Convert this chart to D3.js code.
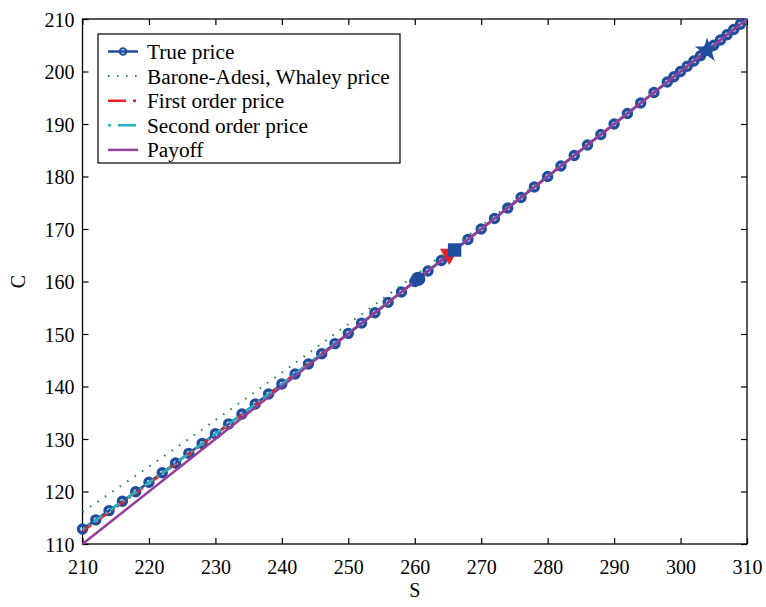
<!DOCTYPE html>
<html>
<head>
<meta charset="utf-8">
<script src="https://cdn.jsdelivr.net/npm/d3@7"></script>
<style>
  body { margin: 0; background: #fff; }
  svg text { font-family: "Times New Roman", "Liberation Serif", "DejaVu Serif", serif; fill: #000; }
</style>
</head>
<body>
<div id="chart"></div>
<script>
// Chart data.
let sTrue = [210,212,214,216,218,220,222,224,226,228,230,232,234,236,238,240,242,244,246,248,250,252,254,256,258,260,262,264,266,268,270,272,274,276,278,280,282,284,286,288,290,292,294,296,298,299,300,301,302,303,304,305,306,307,308,309];
let cTrue = [112.85,114.6,116.36,118.15,119.95,121.75,123.57,125.42,127.27,129.13,131.0,132.88,134.77,136.66,138.56,140.47,142.38,144.3,146.23,148.17,150.12,152.08,154.05,156.03,158.01,160,162,164,166,168,170,172,174,176,178,180,182,184,186,188,190,192,194,196,198,199,200,201,202,203,204,205,206,207,208,209];

let sBaw = [210,215,220,225,230,235,240,245,250,255,260,265,270,275,280,285,290,295,300,305,310];
let cBaw = [116.1,120.4,124.75,129.15,133.6,138.1,142.65,147.25,151.9,156.55,161.15,165.85,170.6,175.42,180.28,185.17,190.09,195.04,200.01,205,210];

let sApprox = [210,212,214,216,218,220,222,224,226,228,230,232,234,236,238,240,242,244,246,248,250,252,254,256,258,260,310];
let cFirst = [112.45,114.25,116.05,117.87,119.7,121.53,123.37,125.22,127.08,128.96,130.84,132.74,134.65,136.57,138.5,140.43,142.36,144.29,146.22,148.16,150.11,152.07,154.04,156.02,158.01,160,210];
let cSecond = [112.78,114.54,116.31,118.1,119.9,121.71,123.53,125.37,127.22,129.08,130.95,132.84,134.73,136.63,138.54,140.45,142.37,144.29,146.22,148.16,150.11,152.07,154.04,156.02,158.01,160,210];

let sPayoff = [210,310];
let cPayoff = [110,210];

// Critical prices: [S, C, shape, colour]
let critical = [
    [260.5, 160.5, 'circle', '#1f4e9f'],
    [265.2, 165.2, 'triangle', '#e8202a'],
    [266, 166, 'square', '#1f4e9f'],
    [304, 204, 'star', '#1f4e9f']
];

let xTicks = [210,220,230,240,250,260,270,280,290,300,310];
let yTicks = [110,120,130,140,150,160,170,180,190,200,210];

let legendNames = ['True price', 'Barone-Adesi, Whaley price', 'First order price', 'Second order price', 'Payoff'];

// Build constants.
let width = 766,
    height = 607,
    plot = {left: 82.5, right: 747, top: 19, bottom: 544},
    blue = '#1f4e9f',
    green = '#23904a',
    red = '#e8202a',
    cyan = '#22b5bf',
    purple = '#933d9d',
    fontFamily = '"Times New Roman", "Liberation Serif", "DejaVu Serif", serif',
    fontSize = 20,
    legendFont = 21.3;

let svg = d3.select('#chart')
    .append('svg')
        .attr('width', width)
        .attr('height', height);

let x = d3.scaleLinear().domain([210, 310]).range([plot.left, plot.right]);
let y = d3.scaleLinear().domain([110, 210]).range([plot.bottom, plot.top]);

let line = d3.line()
    .x(d => x(d[0]))
    .y(d => y(d[1]));

let zip = (a, b) => a.map((v, i) => [v, b[i]]);

// Axes (ticks pointing inward, box on).
function styleAxis(g, labels) {
    g.select('.domain').remove();
    g.selectAll('line').attr('stroke', '#000').attr('stroke-width', 1.2);
    g.selectAll('text')
        .style('font-size', fontSize + 'px')
        .style('font-family', fontFamily)
        .attr('display', labels ? null : 'none');
}

svg.append('g')
    .attr('transform', `translate(0, ${plot.bottom})`)
    .call(d3.axisBottom(x).tickValues(xTicks).tickSize(-6).tickPadding(16).tickFormat(d3.format('d')))
    .call(g => styleAxis(g, true));

svg.append('g')
    .attr('transform', `translate(0, ${plot.top})`)
    .call(d3.axisTop(x).tickValues(xTicks).tickSize(-6))
    .call(g => styleAxis(g, false));

svg.append('g')
    .attr('transform', `translate(${plot.left}, 0)`)
    .call(d3.axisLeft(y).tickValues(yTicks).tickSize(-6).tickPadding(8).tickFormat(d3.format('d')))
    .call(g => styleAxis(g, true))
    .selectAll('text').attr('dy', '0.35em');

svg.append('g')
    .attr('transform', `translate(${plot.right}, 0)`)
    .call(d3.axisRight(y).tickValues(yTicks).tickSize(-6))
    .call(g => styleAxis(g, false));

svg.append('rect')
    .attr('x', plot.left)
    .attr('y', plot.top)
    .attr('width', plot.right - plot.left)
    .attr('height', plot.bottom - plot.top)
    .attr('fill', 'none')
    .attr('stroke', '#000')
    .attr('stroke-width', 1.3);

// Axis titles.
svg.append('text')
    .attr('x', (plot.left + plot.right) / 2)
    .attr('y', 597)
    .attr('text-anchor', 'middle')
    .style('font-size', fontSize + 'px')
    .text('S');

svg.append('text')
    .attr('transform', `translate(25, ${(plot.top + plot.bottom) / 2}) rotate(-90)`)
    .attr('text-anchor', 'middle')
    .style('font-size', fontSize + 'px')
    .text('C');

// Series.
let series = svg.append('g');

series.append('path')
    .attr('d', line(zip(sTrue, cTrue)))
    .attr('fill', 'none')
    .attr('stroke', blue)
    .attr('stroke-width', 2.5);

series.selectAll('circle.true')
    .data(zip(sTrue, cTrue))
    .join('circle')
        .attr('class', 'true')
        .attr('cx', d => x(d[0]))
        .attr('cy', d => y(d[1]))
        .attr('r', 4)
        .attr('fill', 'none')
        .attr('stroke', blue)
        .attr('stroke-width', 3.4);

series.append('path')
    .attr('d', line(zip(sBaw, cBaw)))
    .attr('fill', 'none')
    .attr('stroke', green)
    .attr('stroke-width', 2)
    .attr('stroke-dasharray', '1.6,7.4');

series.append('path')
    .attr('d', line(zip(sApprox, cFirst)))
    .attr('fill', 'none')
    .attr('stroke', red)
    .attr('stroke-width', 2.5)
    .attr('stroke-dasharray', '11,4,2,4');

series.append('path')
    .attr('d', line(zip(sApprox, cSecond)))
    .attr('fill', 'none')
    .attr('stroke', cyan)
    .attr('stroke-width', 2.5)
    .attr('stroke-dasharray', '11,4,2,4')
    .attr('stroke-dashoffset', 8);

series.append('path')
    .attr('d', line(zip(sPayoff, cPayoff)))
    .attr('fill', 'none')
    .attr('stroke', purple)
    .attr('stroke-width', 2.5);

// Critical price markers.
let shapes = {
    circle: d3.symbol(d3.symbolCircle, 165)(),
    triangle: d3.symbol(d3.symbolTriangle, 150)(),
    square: d3.symbol(d3.symbolSquare, 180)(),
    star: d3.symbol(d3.symbolStar, 190)()
};

series.selectAll('path.critical')
    .data(critical)
    .join('path')
        .attr('class', 'critical')
        .attr('d', d => shapes[d[2]])
        .attr('transform', d => `translate(${x(d[0])}, ${y(d[1])})` + (d[2] === 'triangle' ? ' rotate(180)' : ''))
        .attr('fill', d => d[3]);

// Legend.
let legend = svg.append('g').attr('transform', 'translate(98, 34)');

legend.append('rect')
    .attr('width', 302)
    .attr('height', 129)
    .attr('fill', '#fff')
    .attr('stroke', '#000')
    .attr('stroke-width', 1.2);

let legendStyles = [
    {color: blue, dash: null, marker: true},
    {color: green, dash: '1.6,7.4', width: 2},
    {color: red, dash: '18,7,3,7'},
    {color: cyan, dash: '3,7,18,7'},
    {color: purple, dash: null}
];

let rowY = i => 17.5 + i * 24.6;

legendStyles.forEach((st, i) => {
    let row = legend.append('g').attr('transform', `translate(0, ${rowY(i)})`);
    row.append('line')
        .attr('x1', 10).attr('x2', 40)
        .attr('stroke', st.color)
        .attr('stroke-width', st.width || 2.5)
        .attr('stroke-dasharray', st.dash);
    if (st.marker) {
        row.append('circle')
            .attr('cx', 25).attr('r', 3.3)
            .attr('fill', 'none')
            .attr('stroke', st.color)
            .attr('stroke-width', 2);
    }
    row.append('text')
        .attr('x', 49)
        .attr('dy', '0.35em')
        .style('font-size', legendFont + 'px')
        .text(legendNames[i]);
});
</script>
</body>
</html>
